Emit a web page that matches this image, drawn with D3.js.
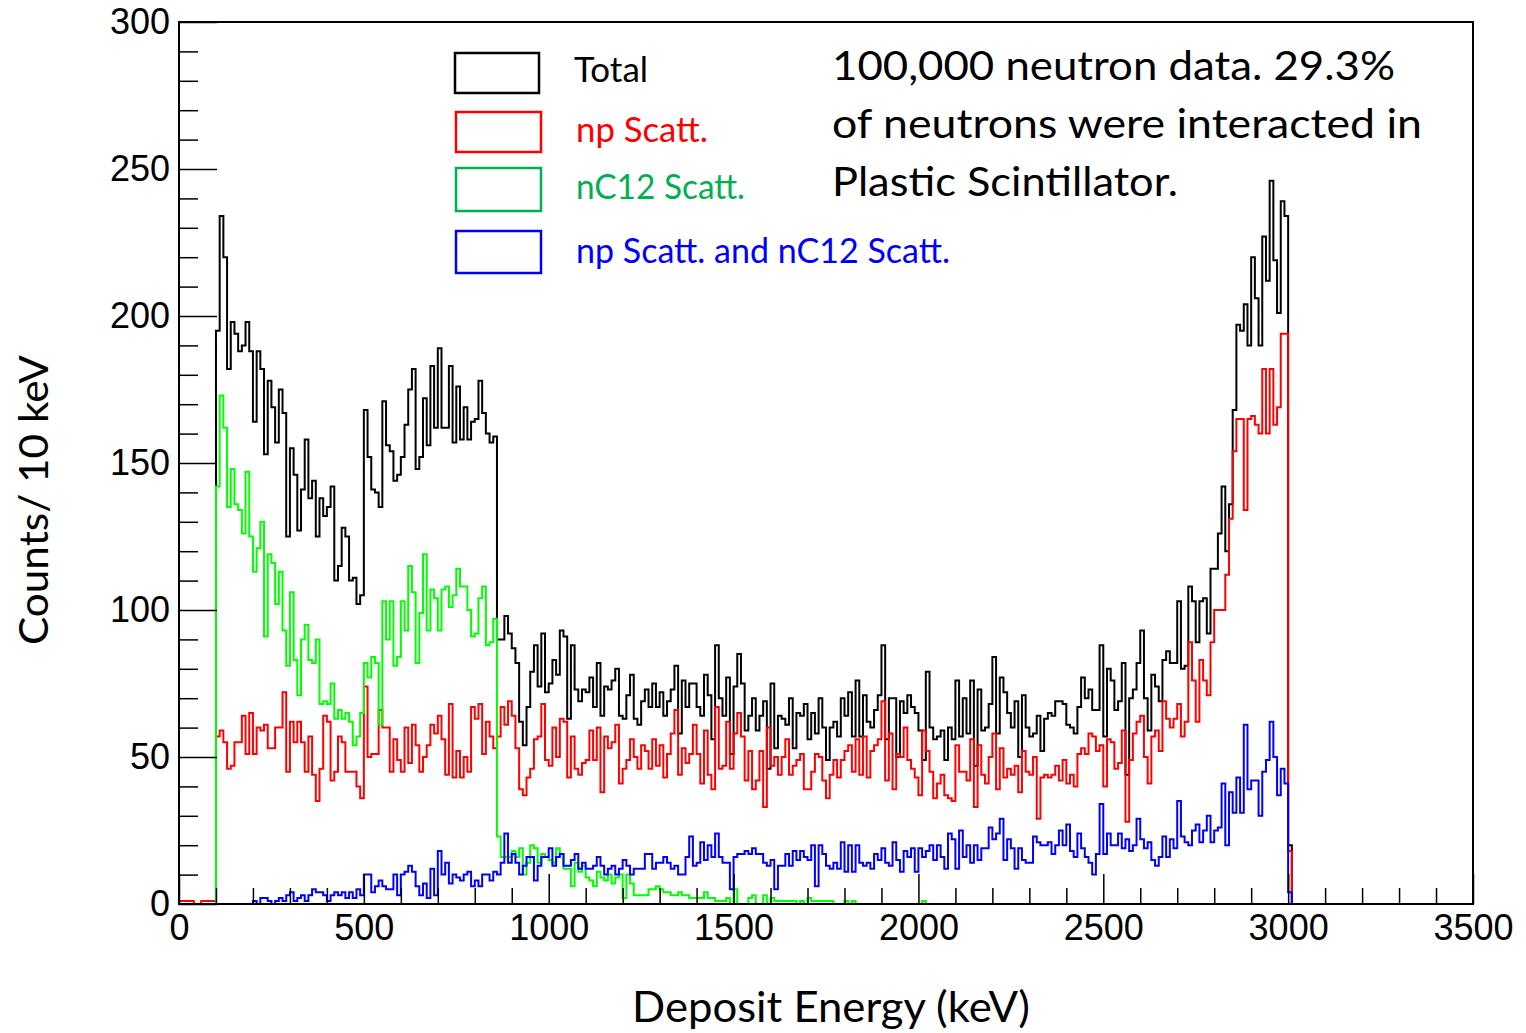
<!DOCTYPE html>
<html><head><meta charset="utf-8">
<script src="https://cdn.jsdelivr.net/npm/d3@7"></script>
<style>body{margin:0;background:#fff}</style>
</head><body>
<svg id="c" width="1526" height="1033"></svg>
<script>
// ---- DATA (counts per 10 keV bin, bins starting at 100 keV, last bin 3000-3010 keV) ----
const binWidth = 10;
const firstBinKeV = 100;
const xDomain = [0, 3500];
const yDomain = [0, 300];
const xMajorTicks = [0, 500, 1000, 1500, 2000, 2500, 3000, 3500];
const yMajorTicks = [0, 50, 100, 150, 200, 250, 300];

const totalCounts = [
195,234,220,182,198,194,188,190,198,188,164,188,182,153,178,169,157,175,167,125,155,146,127,141,158,138,144,125,138,132,135,
142,110,115,128,125,110,111,102,105,168,152,141,140,135,171,156,154,144,146,152,163,175,182,148,152,172,156,183,162,189,162,162,
183,157,176,158,169,158,164,165,178,167,160,157,159,
90,90,98,92,87,82,62,54,67,79,88,74,92,72,75,83,78,93,91,63,
88,73,69,73,72,77,67,82,64,74,73,76,80,64,63,71,78,63,61,69,73,67,75,67,72,64,69,73,81,58,76,67,
75,75,67,64,78,71,56,88,70,64,77,51,74,85,75,59,64,70,59,64,69,46,75,53,64,63,61,70,53,65,64,68,56,
65,58,70,60,49,60,62,57,70,64,72,57,76,57,71,62,60,66,71,88,56,70,70,50,69,65,71,67,65,59,49,79,
60,56,57,59,49,60,56,76,57,70,58,76,47,73,59,60,68,84,58,77,72,65,60,69,50,71,60,57,58,64,52,63,65,
64,69,69,68,61,60,58,67,77,70,73,66,66,88,57,80,76,66,69,82,44,70,73,82,93,70,59,78,74,69,83,86,
82,82,103,80,81,108,103,89,103,104,92,114,114,126,142,120,136,168,197,195,204,190,220,206,190,227,212,246,219,201,239,234,20
];

const npCounts = [
57,59,55,46,47,55,55,64,51,65,51,60,59,61,53,53,60,60,72,45,62,55,62,55,45,57,44,35,46,64,62,
42,45,57,55,45,45,45,40,36,74,50,51,51,66,60,60,45,56,49,45,60,48,61,54,45,50,54,61,58,64,56,44,
68,43,52,43,50,45,67,63,68,51,62,57,53,57,67,61,69,64,53,39,37,43,46,56,57,68,49,47,60,50,63,62,43,
57,46,44,48,49,59,49,60,38,57,53,55,61,41,46,49,56,50,46,54,52,46,56,47,54,43,51,58,66,44,53,48,
51,61,51,41,59,44,39,67,46,47,62,46,58,65,57,42,52,39,42,52,33,60,47,50,44,50,56,44,47,49,51,39,39,
45,51,50,42,36,44,49,43,49,52,54,45,56,44,57,43,52,54,56,69,42,58,39,51,50,60,49,46,43,37,59,52,
45,36,41,44,37,36,35,54,45,45,42,56,33,54,44,41,50,58,39,53,43,46,44,47,38,52,45,44,50,29,43,44,
43,44,47,42,49,41,44,40,51,53,51,58,57,52,54,40,56,55,46,48,59,28,49,58,62,64,50,41,57,59,52,69,63,
60,63,68,57,62,89,76,62,83,76,71,89,100,100,100,112,131,154,165,165,134,165,166,163,160,182,160,182,163,169,194,194,18
];
// np Scatt. counts below 100 keV (bins 0-90 keV)
const npLowCounts = [1,1,1,1,0,0,1,1,1,1];

const nC12Counts = [
142,173,162,135,148,136,134,126,147,125,113,121,130,91,119,116,102,113,93,81,106,83,71,90,95,83,82,90,68,69,68,
75,63,66,63,65,62,54,57,65,82,77,84,82,61,103,90,103,81,84,103,93,115,106,82,99,119,93,107,104,93,107,108,
101,105,114,108,108,100,91,92,104,108,88,89,97,
23,16,16,16,18,16,19,10,14,20,19,14,17,16,15,14,19,17,12,12,
6,14,11,13,9,8,6,11,9,8,10,7,9,10,2,10,7,3,3,3,3,5,5,6,5,4,4,3,3,4,3,3,
2,2,2,2,4,2,2,1,1,1,2,0,5,0,0,0,2,3,0,0,3,0,2,1,1,1,1,1,1,0,1,0,2,
1,1,1,1,1,1,0,0,0,1,0,1,0,0,0,0,0,0,0,0,0,0,0,0,0,0,0,0,0,0,1,0,
0,0,0,0,0,0,0,0,0,0,0,0,0,0,0,0,0,0,0,0,0,0,0,0,0,0,0,0,0,0,0,0,0,
0,0,0,0,0,0,0,0,0,0,0,0,0,0,0,0,0,0,0,0,0,0,0,0,0,0,0,0,0,0,0,0,
0,0,0,0,0,0,0,0,0,0,0,0,0,0,0,0,0,0,0,0,0,0,0,0,0,0,0,0,0,0,0,0,0
];

const bothCounts = [
0,0,0,0,0,0,0,0,0,0,1,0,2,2,1,0,1,2,1,3,4,1,2,3,1,3,5,4,4,3,1,
3,4,3,4,2,4,2,5,3,10,10,4,6,8,6,5,5,10,3,10,11,13,11,6,3,7,2,12,3,18,10,14,
7,10,9,8,10,11,6,8,6,10,10,8,11,10,14,24,14,17,14,10,13,16,16,8,13,16,16,19,13,16,17,13,13,
15,17,12,14,12,12,13,16,13,10,12,13,10,12,15,13,10,12,12,12,17,17,12,14,14,16,14,12,13,10,10,16,
23,13,14,21,15,20,16,24,16,14,14,5,16,17,17,18,17,19,17,17,14,13,15,5,13,13,17,13,18,15,18,16,15,
20,6,20,17,13,12,14,12,21,11,20,11,20,14,13,14,12,17,15,19,14,13,21,15,11,18,16,19,11,19,16,18,
20,15,20,16,12,24,22,12,25,16,20,14,20,15,19,19,26,22,24,29,15,22,19,12,19,15,14,14,23,21,20,20,21,
17,20,25,20,27,18,16,24,19,16,14,10,17,34,17,24,20,20,24,19,22,18,20,29,22,19,21,15,13,16,23,16,
22,19,35,23,21,20,25,27,21,25,30,21,25,26,41,20,38,31,43,31,61,39,42,42,30,45,49,62,50,37,46,41,4
];

const seriesNames = ["Total", "np Scatt.", "nC12 Scatt.", "np Scatt. and nC12 Scatt."];
const lineColors = ["#000000", "#ff0000", "#00ff00", "#0000ff"];
const legendColors = ["#000000", "#ff0000", "#00b050", "#0000ff"];
const noteLines = ["100,000 neutron data. 29.3%", "of neutrons were interacted in", "Plastic Scintillator."];

// ---- CHART ----
const svg = d3.select("#c");
const x = d3.scaleLinear().domain(xDomain).range([179, 1473]);
const y = d3.scaleLinear().domain(yDomain).range([904, 22]);

function toBins(arr, low) {
  const nBins = (xDomain[1] - xDomain[0]) / binWidth;
  const firstIdx = firstBinKeV / binWidth;
  const out = [];
  for (let i = 0; i < nBins; i++) {
    let v = 0;
    if (i < firstIdx) v = low ? (low[i] || 0) : 0;
    else if (i - firstIdx < arr.length) v = arr[i - firstIdx];
    out.push({E: i * binWidth, v});
  }
  out.push({E: xDomain[1], v: out[out.length - 1].v});
  return out;
}

const series = [toBins(totalCounts), toBins(npCounts, npLowCounts), toBins(nC12Counts), toBins(bothCounts)];

svg.append("defs").append("clipPath").attr("id", "clip")
  .append("rect").attr("x", 179).attr("y", 20).attr("width", 1294).attr("height", 886);

const line = d3.line().x(d => x(d.E)).y(d => y(d.v)).curve(d3.curveStepAfter);
const gLines = svg.append("g").attr("clip-path", "url(#clip)");
series.forEach((s, i) => {
  gLines.append("path").datum(s).attr("d", line)
    .attr("fill", "none").attr("stroke", lineColors[i]).attr("stroke-width", 2)
    .attr("stroke-linejoin", "miter");
});

// frame
svg.append("rect").attr("x", 179).attr("y", 22).attr("width", 1294).attr("height", 882)
  .attr("fill", "none").attr("stroke", "#000").attr("stroke-width", 2);

// axes
const labelFont = "'Liberation Sans', Arial, sans-serif";
const yMinor = d3.range(yDomain[0], yDomain[1] + 1, 10).filter(v => v % 50 !== 0);
const xMinor = d3.range(xDomain[0], xDomain[1] + 1, 100).filter(v => v % 500 !== 0);

svg.append("g").attr("transform", "translate(179,0)")
  .call(d3.axisLeft(y).tickValues(yMajorTicks).tickSize(-38).tickPadding(9).tickFormat(d3.format("d")));
svg.append("g").attr("transform", "translate(179,0)")
  .call(d3.axisLeft(y).tickValues(yMinor).tickSize(-19).tickFormat(""));
svg.append("g").attr("transform", "translate(0,904)")
  .call(d3.axisBottom(x).tickValues(xMajorTicks).tickSize(-30).tickPadding(10).tickFormat(d3.format("d")));
svg.append("g").attr("transform", "translate(0,904)")
  .call(d3.axisBottom(x).tickValues(xMinor).tickSize(-16).tickFormat(""));

svg.selectAll(".domain").remove();
svg.selectAll(".tick line").attr("stroke", "#000").attr("stroke-width", 1.5);
svg.selectAll(".tick text").attr("font-family", labelFont).attr("font-size", 36).attr("fill", "#000");

// axis titles
const titleFont = "Lato, 'Open Sans', sans-serif";
svg.append("text").attr("transform", "translate(48,500) rotate(-90)")
  .attr("text-anchor", "middle").attr("font-family", titleFont).attr("font-size", 40)
  .attr("textLength", 290).attr("lengthAdjust", "spacingAndGlyphs").text("Counts/ 10 keV");
svg.append("text").attr("x", 831).attr("y", 1022)
  .attr("text-anchor", "middle").attr("font-family", titleFont).attr("font-size", 42)
  .attr("textLength", 398).attr("lengthAdjust", "spacingAndGlyphs").text("Deposit Energy (keV)");

// legend
const legBoxes = [[455, 53, 84, 40], [456, 112, 85, 40], [456, 168, 85, 43], [456, 231, 85, 42]];
const legText = [[574, 82, 74], [576, 142, 132], [576, 199, 169], [576, 263, 374]];
seriesNames.forEach((n, i) => {
  const b = legBoxes[i];
  svg.append("rect").attr("x", b[0]).attr("y", b[1]).attr("width", b[2]).attr("height", b[3])
    .attr("fill", "none").attr("stroke", legendColors[i]).attr("stroke-width", 2.5);
  const t = legText[i];
  svg.append("text").attr("x", t[0]).attr("y", t[1]).attr("font-family", titleFont).attr("font-size", 34)
    .attr("fill", legendColors[i]).attr("textLength", t[2]).attr("lengthAdjust", "spacingAndGlyphs").text(n);
});

// note
const noteLen = [563, 590, 346];
noteLines.forEach((s, i) => {
  svg.append("text").attr("x", 832).attr("y", 80 + i * 58).attr("font-family", titleFont).attr("font-size", 41)
    .attr("fill", "#000").attr("textLength", noteLen[i]).attr("lengthAdjust", "spacingAndGlyphs").text(s);
});
</script>
</body></html>
